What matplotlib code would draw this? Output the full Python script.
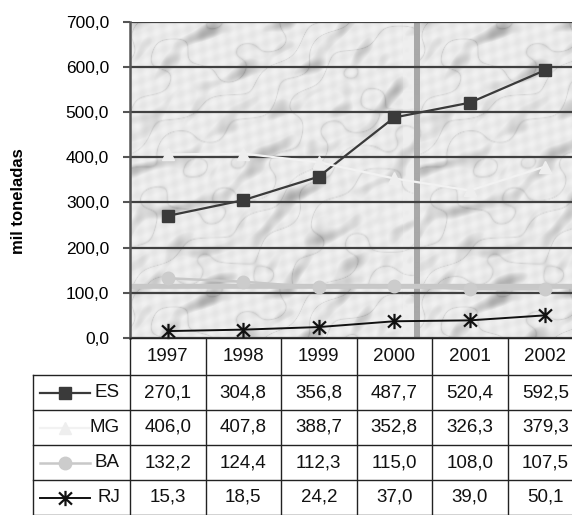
import numpy as np
import matplotlib
matplotlib.use("Agg")
import matplotlib.pyplot as plt
import matplotlib.transforms as mtransforms
from matplotlib.path import Path

plt.rcParams['font.family'] = ['Liberation Sans', 'DejaVu Sans']

# dados (mil toneladas)
anos = ['1997', '1998', '1999', '2000', '2001', '2002']
estados = ['ES', 'MG', 'BA', 'RJ']
es = [270.1, 304.8, 356.8, 487.7, 520.4, 592.5]
mg = [406.0, 407.8, 388.7, 352.8, 326.3, 379.3]
ba = [132.2, 124.4, 112.3, 115.0, 108.0, 107.5]
rj = [15.3, 18.5, 24.2, 37.0, 39.0, 50.1]
series = [es, mg, ba, rj]
yticks = [0, 100, 200, 300, 400, 500, 600, 700]

# marcador "estrela" do Excel (X + traco vertical)
star = Path([(0, -1), (0, 1), (-0.85, -0.8), (0.85, 0.8), (-0.85, 0.8), (0.85, -0.8)],
            [Path.MOVETO, Path.LINETO, Path.MOVETO, Path.LINETO, Path.MOVETO, Path.LINETO])

estilos = [
    dict(color='#3a3a3a', lw=1.6, marker='s', ms=8.5, mfc='#3a3a3a', mec='#3a3a3a'),
    dict(color='#f2f2f2', lw=1.6, marker='^', ms=9, mfc='#eeeeee', mec='#eeeeee'),
    dict(color='#c8c8c8', lw=1.8, marker='o', ms=9, mfc='#cccccc', mec='#cccccc'),
    dict(color='#111111', lw=1.4, marker=star, ms=11, mew=1.6, mec='#111111'),
]

W, H = 572, 515
fig = plt.figure(figsize=(W / 100, H / 100), dpi=100)
ax_l, ax_top, ax_bot, col_w = 130, 21.5, 338, 75.5
ax_w = 6 * col_w
ax_h = ax_bot - ax_top
ax = fig.add_axes([ax_l / W, (H - ax_bot) / H, ax_w / W, ax_h / H])

# fundo "marmore" em ladrilhos
th, tw = 267, 290
yy, xx = np.mgrid[0:th, 0:tw].astype(float)
ang = np.deg2rad(35)
u = xx * np.cos(ang) - yy * np.sin(ang)
w = xx * np.sin(ang) + yy * np.cos(ang)
s = (0.6 * np.sin(u / 37.0 + 0.5) * np.sin(w / 7.5 + 1.7 * np.sin(u / 23.0))
     + 0.5 * np.sin(u / 19.0 + 2.0) * np.sin(w / 4.3 + 1.2 * np.sin(u / 15.0 + 1.0))
     + 0.35 * np.sin(xx / 11.0) * np.sin(yy / 13.0 + 0.7))
turb = (0.9 * np.sin(xx / 29.0 + 0.4) + 0.7 * np.sin(yy / 21.0 + xx / 37.0)
        + 0.5 * np.sin((xx - yy) / 13.0 + 1.1) + 0.3 * np.sin(yy / 7.0 + xx / 11.0))
vein = (1 - np.abs(np.sin((xx + 1.3 * yy) / 19.0 + 1.8 * turb))) ** 10
mott = np.sin(xx / 3.1 + yy / 4.3) * np.sin(yy / 3.7 - xx / 5.9)
tile = 0.92 - 0.26 * np.clip(s - 0.25, 0, None) - 0.10 * vein + 0.025 * mott
tile[:, -17:-6] = np.clip(tile[:, -17:-6] + 0.025, 0, 0.93)
tile[:, -6:] = 0.66
tile[-5:, :] = 0.78
tex = np.tile(tile, (2, 2))[:int(round(ax_h)), :int(round(ax_w))]
ax.imshow(tex, cmap='gray', vmin=0, vmax=1, aspect='auto', interpolation='bilinear',
          extent=(0, 1, 0, 1), transform=ax.transAxes, zorder=0)

x = np.arange(len(anos))
for s_, st in zip(series, estilos):
    ax.plot(x, s_, zorder=3, clip_on=False, **st)

ax.set_xlim(-0.5, 5.5)
ax.set_ylim(0, 700)
ax.set_yticks(yticks)
ax.set_yticklabels([f"{t:.1f}".replace('.', ',') for t in yticks], fontsize=12.5)
ax.set_xticks([])
ax.set_axisbelow(True)
ax.yaxis.grid(True, color='#404040', lw=1.6)
ax.tick_params(axis='y', direction='out', length=5, width=1.5, color='#555555', pad=10)
for sp in ['top', 'right', 'bottom']:
    ax.spines[sp].set_visible(False)
ax.spines['left'].set_color('#555555')
ax.spines['left'].set_linewidth(1.8)

fig.text(19 / W, 1 - 201 / H, 'mil toneladas', rotation=90, fontweight='bold',
         fontsize=12, ha='center', va='center')

# tabela de dados: x em unidades de categoria, y em fracao do eixo
tr = mtransforms.blended_transform_factory(ax.transData, ax.transAxes)
lab_w, head_h, row_h = 97, 37, 35
x_lab = -0.5 - lab_w / col_w
x_right = len(anos) - 0.5
y_rows = [0, -head_h / ax_h] + [-(head_h + row_h * (k + 1)) / ax_h for k in range(len(estados))]
y_bot = y_rows[-1]
lk = dict(color='#222222', lw=1, transform=tr, clip_on=False, zorder=4)
ax.plot([-0.5, x_right], [0, 0], **lk)
for yv in y_rows[1:]:
    ax.plot([x_lab, x_right], [yv, yv], **lk)
ax.plot([x_lab, x_lab], [y_rows[1], y_bot], **lk)
for xv in np.arange(len(anos) + 1) - 0.5:
    ax.plot([xv, xv], [0, y_bot], **lk)

tk = dict(transform=tr, fontsize=13.5, color='#111111', va='center', zorder=5)
for j, ano in enumerate(anos):
    ax.text(j, y_rows[1] / 2, ano, ha='center', **tk)
for i, (nome, s_) in enumerate(zip(estados, series)):
    yc = (y_rows[i + 1] + y_rows[i + 2]) / 2
    ax.text(-0.5 - 10 / col_w, yc, nome, ha='right', **tk)
    for j, v in enumerate(s_):
        ax.text(j, yc, f"{v:.1f}".replace('.', ','), ha='center', **tk)
    # simbolo de legenda
    xs = [-0.5 + (px - ax_l) / col_w for px in (40, 65, 90)]
    ax.plot(xs, [yc] * 3, transform=tr, clip_on=False, zorder=6,
            markevery=[1], **estilos[i])

fig.savefig('out.png', dpi=100)
